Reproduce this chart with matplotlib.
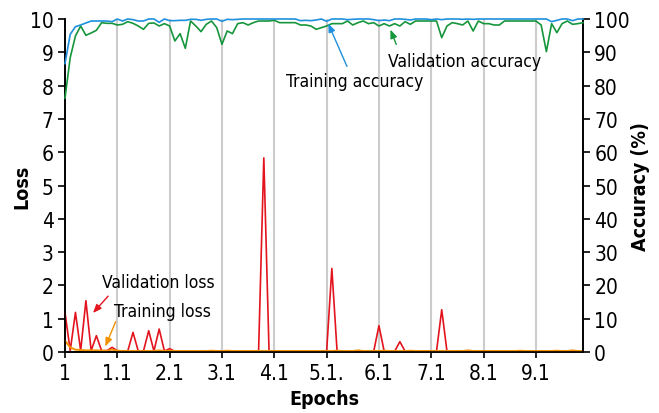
import numpy as np
import matplotlib.pyplot as plt

plt.rcParams['font.family'] = ['DejaVu Sans']
plt.rcParams['font.stretch'] = 'condensed'

# x-axis labels, one every 10 points (100 points total)
tick_labels = ["1", "1.1", "2.1", "3.1", "4.1", "5.1.", "6.1", "7.1", "8.1", "9.1"]

# accuracies in percent (right axis)
train_acc = [86.6, 95.4, 97.7, 98.2, 98.8, 99.4, 99.4, 99.4, 99.4, 99.2,
             100, 99.4, 100, 99.8, 99.4, 99.4, 100, 100, 99.0, 100,
             99.5, 99.5, 99.6, 99.6, 99.9, 99.9, 99.6, 99.9, 100, 100,
             99.3, 99.9, 99.8, 99.9, 100, 100, 100, 100, 100, 100,
             100, 100, 100, 100, 100, 99.5, 99.6, 99.5, 99.7, 100,
             99.3, 100, 100, 100, 99.8, 99.9, 100, 100, 100, 99.8,
             99.5, 99.7, 99.5, 100, 100, 99.9, 99.7, 100, 100, 100,
             99.8, 100, 99.8, 100, 100, 100, 99.9, 100, 99.9, 100,
             100, 100, 100, 100, 100, 100, 100, 100, 100, 100,
             100, 100, 100, 99.2, 99.6, 100, 100, 99.5, 100, 100]
val_acc = [76.2, 88.4, 94.9, 97.9, 95.1, 95.8, 96.6, 98.9, 98.7, 98.7,
           98.2, 98.4, 99.2, 98.7, 97.9, 96.9, 98.7, 98.8, 97.9, 98.6,
           97.9, 93.4, 95.6, 91.2, 99.4, 97.9, 96.2, 98.4, 99.4, 97.4,
           92.4, 96.4, 95.6, 98.6, 98.9, 98.2, 98.9, 99.4, 99.4, 99.4,
           99.6, 98.9, 98.9, 98.9, 98.9, 98.2, 98.2, 97.9, 96.9, 97.4,
           97.9, 98.6, 98.6, 98.6, 99.4, 98.2, 98.9, 99.4, 98.6, 98.9,
           97.9, 98.6, 97.9, 98.6, 97.9, 99.2, 98.4, 99.4, 99.4, 99.4,
           99.4, 99.4, 94.4, 97.9, 98.9, 98.6, 98.2, 99.4, 96.4, 99.4,
           98.6, 98.6, 98.2, 98.2, 99.4, 99.4, 99.4, 99.4, 99.4, 99.4,
           99.4, 98.2, 90.2, 98.6, 95.9, 98.6, 99.4, 98.4, 98.6, 98.9]

# losses (left axis)
val_loss = [1.19, 0.04, 1.19, 0.04, 1.54, 0.04, 0.49, 0.04, 0.04, 0.14,
            0.04, 0.03, 0.03, 0.59, 0.03, 0.03, 0.64, 0.03, 0.69, 0.03,
            0.10, 0.02, 0.02, 0.02, 0.02, 0.02, 0.02, 0.02, 0.02, 0.02,
            0.02, 0.02, 0.02, 0.02, 0.02, 0.02, 0.02, 0.02, 5.83, 0.02,
            0.02, 0.02, 0.02, 0.02, 0.02, 0.02, 0.02, 0.02, 0.02, 0.02,
            0.02, 2.51, 0.02, 0.02, 0.02, 0.02, 0.02, 0.02, 0.02, 0.02,
            0.79, 0.02, 0.02, 0.02, 0.31, 0.02, 0.02, 0.02, 0.02, 0.02,
            0.02, 0.02, 1.27, 0.02, 0.02, 0.02, 0.02, 0.02, 0.02, 0.02,
            0.02, 0.02, 0.02, 0.02, 0.02, 0.02, 0.02, 0.02, 0.02, 0.02,
            0.02, 0.02, 0.02, 0.02, 0.02, 0.02, 0.02, 0.02, 0.02, 0.02]
train_loss = [0.34, 0.14, 0.07, 0.06, 0.05, 0.05, 0.05, 0.04, 0.04, 0.07,
              0.04, 0.03, 0.03, 0.03, 0.03, 0.03, 0.03, 0.03, 0.05, 0.03,
              0.04, 0.03, 0.03, 0.03, 0.03, 0.03, 0.03, 0.03, 0.04, 0.03,
              0.03, 0.04, 0.03, 0.03, 0.03, 0.03, 0.03, 0.03, 0.03, 0.03,
              0.03, 0.03, 0.03, 0.03, 0.03, 0.03, 0.03, 0.03, 0.03, 0.03,
              0.03, 0.03, 0.04, 0.03, 0.03, 0.03, 0.05, 0.03, 0.03, 0.03,
              0.03, 0.04, 0.03, 0.03, 0.03, 0.03, 0.04, 0.03, 0.03, 0.03,
              0.03, 0.03, 0.03, 0.03, 0.03, 0.03, 0.03, 0.05, 0.03, 0.03,
              0.03, 0.03, 0.03, 0.03, 0.03, 0.03, 0.03, 0.04, 0.03, 0.03,
              0.03, 0.03, 0.03, 0.03, 0.04, 0.03, 0.03, 0.05, 0.03, 0.03]

BLUE = "#1e90dc"
GREEN = "#16963c"
RED = "#e3141e"
ORANGE = "#f39200"
FS = 12.5

x = np.arange(len(val_loss))

fig = plt.figure(figsize=(6.59, 4.14), dpi=100)
ax = fig.add_axes([0.0986, 0.1473, 0.7861, 0.8044])
ax2 = ax.twinx()

# loss on the left axis
ax.plot(x, val_loss, color=RED, lw=1.2, clip_on=False, zorder=3)
ax.plot(x, train_loss, color=ORANGE, lw=1.4, clip_on=False, zorder=4)
ax.set_xlim(0, len(x) - 1)
ax.set_ylim(0, 10)
ax.set_yticks(range(0, 11))
ax.set_xticks(range(0, len(x), 10))
ax.set_xticklabels(tick_labels)
for gx in range(10, len(x), 10):
    ax.axvline(gx, color="#cccccc", lw=1.5, zorder=0)
ax.set_ylabel("Loss", fontsize=14, fontweight="bold", va="center")
ax.yaxis.set_label_coords(-0.083, 0.5)
ax.set_xlabel("Epochs", fontsize=14, fontweight="bold", va="center")
ax.xaxis.set_label_coords(0.5, -0.141)

# accuracy on the right axis
ax2.plot(x, val_acc, color=GREEN, lw=1.2, clip_on=False, zorder=3)
ax2.plot(x, train_acc, color=BLUE, lw=1.2, clip_on=False, zorder=4)
ax2.set_ylim(0, 100)
ax2.set_yticks(range(0, 101, 10))
ax2.set_ylabel("Accuracy (%)", fontsize=14, fontweight="bold", va="center")
ax2.yaxis.set_label_coords(1.11, 0.5)

for a in (ax, ax2):
    a.spines["top"].set_visible(False)
    for s in ("left", "right", "bottom"):
        a.spines[s].set_linewidth(1.2)
    a.tick_params(labelsize=15, direction="out", length=5, width=1.2, pad=3)
ax.tick_params(axis="x", length=4, pad=4)

# annotations
ax2.text(55.4, 81.4, "Training accuracy", fontsize=FS, ha="center", va="center")
ax2.annotate("", xy=(50.1, 99.4), xytext=(54.1, 85.0),
             arrowprops=dict(arrowstyle="-|>,head_length=0.5,head_width=0.2", color=BLUE, lw=1))
ax2.text(76.3, 87.4, "Validation accuracy", fontsize=FS, ha="center", va="center")
ax2.annotate("", xy=(62.0, 97.6), xytext=(63.5, 91.6),
             arrowprops=dict(arrowstyle="-|>,head_length=0.5,head_width=0.2", color=GREEN, lw=1))
ax.text(17.8, 2.1, "Validation loss", fontsize=FS, ha="center", va="center")
ax.annotate("", xy=(5.0, 1.11), xytext=(8.6, 1.74),
            arrowprops=dict(arrowstyle="-|>,head_length=0.5,head_width=0.2", color=RED, lw=1))
ax.text(18.7, 1.23, "Training loss", fontsize=FS, ha="center", va="center")
ax.annotate("", xy=(7.5, 0.09), xytext=(9.9, 0.99),
            arrowprops=dict(arrowstyle="-|>,head_length=0.5,head_width=0.2", color=ORANGE, lw=1))

fig.savefig("out.png", dpi=100)
